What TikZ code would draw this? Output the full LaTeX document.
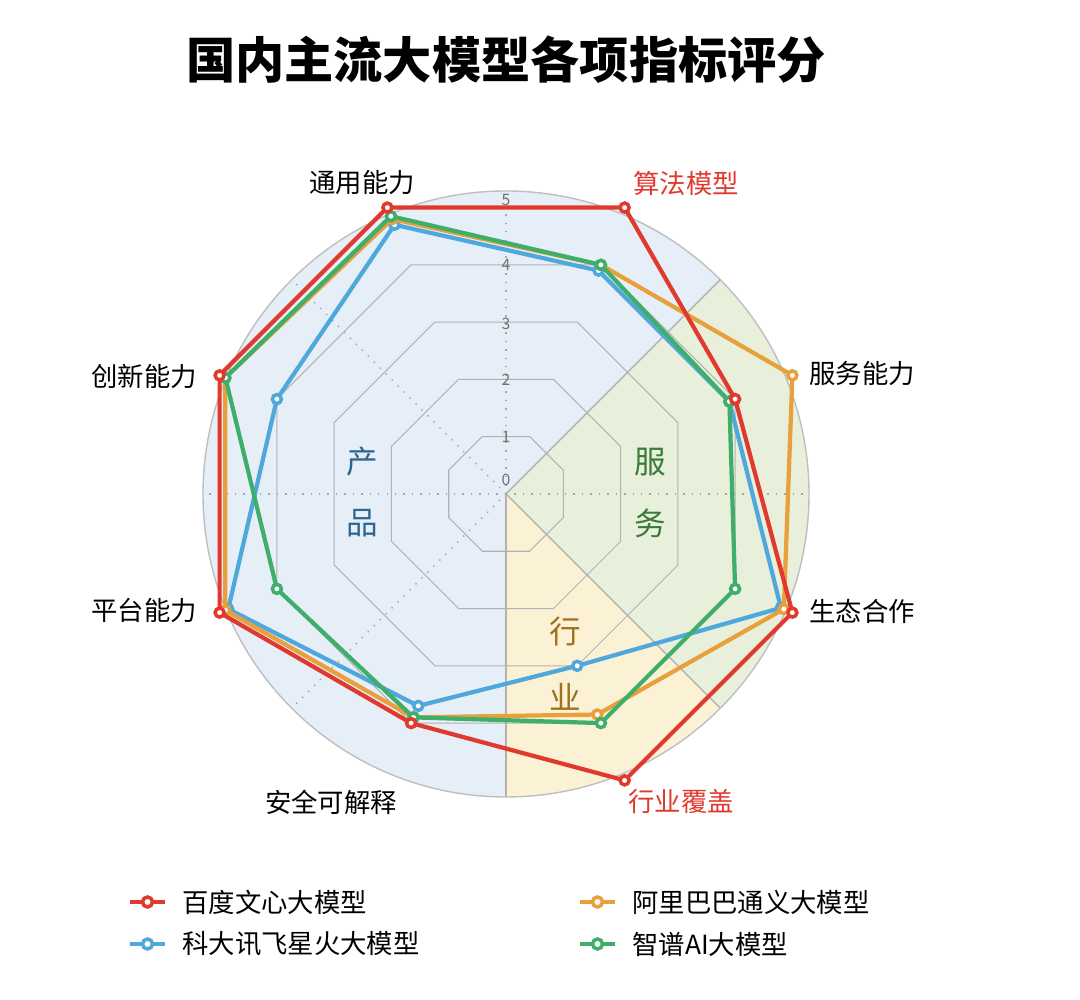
\documentclass[tikz,border=0pt]{standalone}
\usepackage{fontspec}
\setmainfont{Noto Sans CJK SC}
\usetikzlibrary{positioning}
\definecolor{cred}{HTML}{E03A2E}
\definecolor{corange}{HTML}{E8A03C}
\definecolor{cblue}{HTML}{4FA8DC}
\definecolor{cgreen}{HTML}{3FAE6A}
\definecolor{bgblue}{HTML}{E6EEF8}
\definecolor{bggreen}{HTML}{E8F0DC}
\definecolor{bgyellow}{HTML}{FBF2D6}
\definecolor{tblue}{HTML}{2F6690}
\definecolor{tgreen}{HTML}{3A7A3A}
\definecolor{tbrown}{HTML}{A0701E}
\tikzset{
  series/.style={draw=#1, line width=1.2pt, line join=round},
  dot/.style={draw=#1, fill=white, line width=1pt},
  ring/.style={draw=black!30, line width=0.3pt},
  gridline/.style={draw=black!35, dotted, line width=0.4pt},
  axislabel/.style={font=\fontsize{7.5}{9}\selectfont},
  tick/.style={font=\fontsize{4.5}{5}\selectfont, text=black!55},
  region/.style={font=\fontsize{9}{10}\selectfont, text=#1}
}
\def\u{0.62}
\begin{document}
\begin{tikzpicture}
\useasboundingbox (0,0) rectangle (10.8,10);
\node[font=\bfseries\fontsize{14}{16}\selectfont] (title) at (5.06,9.4) {国内主流大模型各项指标评分};

\begin{scope}[shift={(5.06,5.06)}]
% background sectors
\fill[bgblue] (0,0) circle (3.03);
\fill[bggreen] (0,0) -- (45:3.03) arc (45:-45:3.03) -- cycle;
\fill[bgyellow] (0,0) -- (-45:3.03) arc (-45:-90:3.03) -- cycle;
\draw[black!25, line width=0.4pt] (0,0) circle (3.03);
\draw[black!30, line width=0.4pt] (0,0) -- (0,-3.03);
\draw[black!30, line width=0.4pt] (0,0) -- (45:3.03);
\draw[black!30, line width=0.4pt] (0,0) -- (-45:3.03);
\foreach \a in {0,90,135,180,225} \draw[gridline] (0,0) -- (\a:3.03);
% rings
\foreach \r in {1,...,4}
  \draw[ring] (22.5:{\r*\u}) \foreach \k in {1,...,7}{ -- ({22.5+45*\k}:{\r*\u}) } -- cycle;
\foreach \n/\y in {0/0.14,1/0.57,2/1.14,3/1.70,4/2.29,5/2.94}
  \node[tick] (t\n) at (0,\y) {\n};

% region labels
\node[region=tblue] (cp1) at (-1.44,0.32) {产};
\node[region=tblue] (cp2) at (-1.44,-0.29) {品};
\node[region=tgreen] (fw1) at (1.44,0.32) {服};
\node[region=tgreen] (fw2) at (1.44,-0.29) {务};
\node[region=tbrown] (hy1) at (0.59,-1.38) {行};
\node[region=tbrown] (hy2) at (0.59,-2.03) {业};

% series
\foreach \col/\a/\b/\c/\d/\e/\f/\g/\h in {
  cblue/4.7/3.9/3.9/4.8/3.0/3.7/4.85/4.0,
  corange/4.8/4.0/5.0/4.85/3.85/3.9/4.9/4.9,
  cgreen/4.85/4.0/3.9/4.0/4.0/3.9/4.0/4.9,
  cred/5/5/4/5/5/4/5/5}{
  \draw[series=\col] (112.5:{\a*\u}) -- (67.5:{\b*\u}) -- (22.5:{\c*\u}) -- (-22.5:{\d*\u})
    -- (-67.5:{\e*\u}) -- (-112.5:{\f*\u}) -- (-157.5:{\g*\u}) -- (157.5:{\h*\u}) -- cycle;
  \foreach \v/\t in {\a/112.5,\b/67.5,\c/22.5,\d/-22.5,\e/-67.5,\f/-112.5,\g/-157.5,\h/157.5}
    \draw[dot=\col] (\t:{\v*\u}) circle (0.045);
}
\end{scope}

% axis labels
\node[axislabel] (tyny) at (3.62,8.17) {通用能力};
\node[axislabel, text=cred] (sfmx) at (6.86,8.17) {算法模型};
\node[axislabel] (fwnl) at (8.62,6.26) {服务能力};
\node[axislabel] (sthz) at (8.62,3.89) {生态合作};
\node[axislabel, text=cred] (hyfg) at (6.81,1.98) {行业覆盖};
\node[axislabel] (aqkj) at (3.31,1.98) {安全可解释};
\node[axislabel] (ptnl) at (1.44,3.89) {平台能力};
\node[axislabel] (cxnl) at (1.44,6.23) {创新能力};

% legend
\foreach \col/\x/\y/\txt in {cred/1.30/0.98/百度文心大模型, corange/5.80/0.98/阿里巴巴通义大模型,
  cblue/1.30/0.56/科大讯飞星火大模型, cgreen/5.80/0.56/智谱AI大模型}{
  \draw[series=\col] (\x,\y) -- ++(0.35,0);
  \draw[dot=\col] (\x+0.175,\y) circle (0.05);
  \node[axislabel, anchor=west, font=\fontsize{7.5}{9}\selectfont] at (\x+0.4,\y) {\txt};
}
\end{tikzpicture}
\end{document}
